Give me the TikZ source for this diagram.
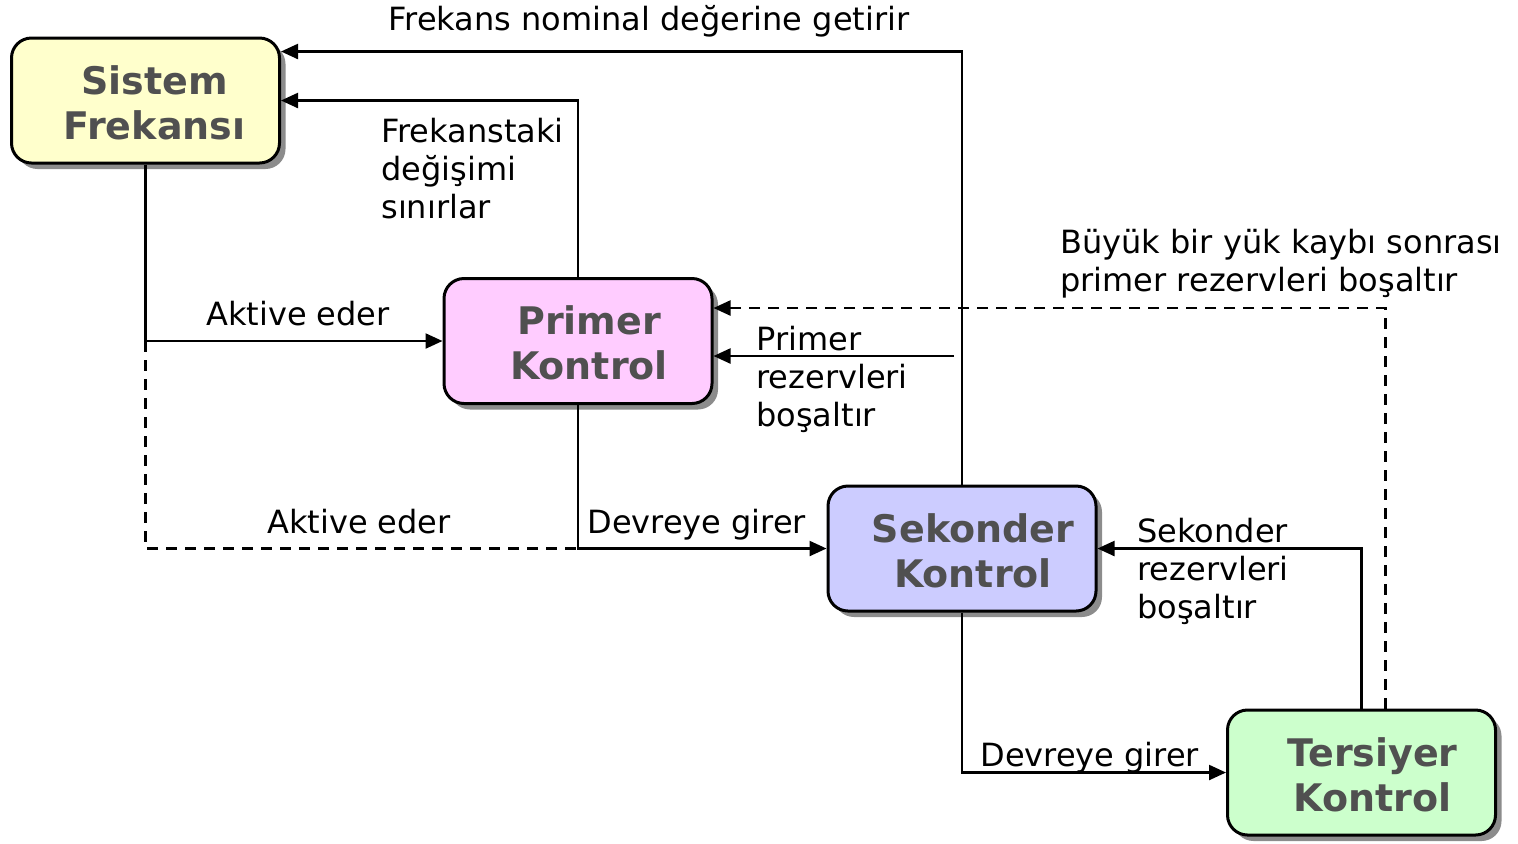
\documentclass[tikz,border=0pt]{standalone}
\usepackage{fontspec}
\setmainfont{DejaVu Sans}
\usetikzlibrary{shadows,arrows.meta,calc}
\definecolor{boxtext}{HTML}{505050}
\definecolor{shadowgray}{HTML}{8C8C8C}
\definecolor{fillsis}{HTML}{FFFFCC}
\definecolor{fillpri}{HTML}{FFCCFF}
\definecolor{fillsek}{HTML}{CCCCFF}
\definecolor{fillter}{HTML}{CCFFCC}
\begin{document}
\begin{tikzpicture}[x=0.5pt,y=-0.5pt,
  box/.style={draw=black, line width=1.5pt, rounded corners=10pt,
    minimum width=134pt, minimum height=62.5pt, inner sep=0pt,
    drop shadow={shadow xshift=3pt, shadow yshift=-3pt, fill=shadowgray, opacity=1}},
  boxlabel/.style={font=\fontsize{19}{22.5}\selectfont\bfseries, text=boxtext, align=center, inner sep=0pt},
  lbl/.style={font=\fontsize{16}{19}\selectfont, inner sep=0pt, align=left},
  conn/.style={line width=1.15pt, -{Triangle[length=8.5pt,width=7.5pt]}},
  dashconn/.style={conn, dash pattern=on 5.5pt off 4pt},
  dashline/.style={line width=1.15pt, dash pattern=on 5.5pt off 4pt}
]
\useasboundingbox (0,0) rectangle (1518,843);

% boxes
\node[box, fill=fillsis] (sis) at (145.5,100.5) {};
\node[box, fill=fillpri] (pri) at (578,341) {};
\node[box, fill=fillsek] (sek) at (962,548.5) {};
\node[box, fill=fillter] (ter) at (1361.5,772.5) {};

\node[boxlabel] (sist) at ($(sis.center)+(9,2)$) {Sistem\\Frekansı};
\node[boxlabel] (prit) at ($(pri.center)+(11,2)$) {Primer\\Kontrol};
\node[boxlabel] (sekt) at ($(sek.center)+(11,2)$) {Sekonder\\Kontrol};
\node[boxlabel] (tert) at ($(ter.center)+(11,2)$) {Tersiyer\\Kontrol};

% helper coordinates
\coordinate (sisE1) at ($(sis.north east)+(0,15)$);
\coordinate (priE1) at ($(pri.north east)+(0,31)$);
\coordinate (prsrc) at (954,356);
\coordinate (tdash) at ($(ter.north)+(24,0)$);
\coordinate (split) at (sis.south |- pri.west);

% connectors
\draw[conn] (sek.north) |- (sisE1);
\draw[conn] (pri.north) |- (sis.east);
\draw[conn] (sis.south) |- (pri.west);
\draw[dashline] (split) |- (pri.south |- sek.west);
\draw[conn] (pri.south) |- (sek.west);
\draw[conn] (prsrc) -- (pri.east |- prsrc);
\draw[dashconn] (tdash) |- (priE1);
\draw[conn] (ter.north) |- (sek.east);
\draw[conn] (sek.south) |- (ter.west);

% labels
\node[lbl, anchor=base] (l1) at (649,30) {Frekans nominal değerine getirir};
\node[lbl, anchor=north west] (l2) at (381,118) {Frekanstaki\\değişimi\\sınırlar};
\node[lbl, anchor=base] (l3) at (298,325) {Aktive eder};
\node[lbl, anchor=base] (l4) at (359,533) {Aktive eder};
\node[lbl, anchor=base west] (l5) at (587,533) {Devreye girer};
\node[lbl, anchor=north west] (l6) at (756,326) {Primer\\rezervleri\\boşaltır};
\node[lbl, anchor=north west] (l7) at (1060,229) {Büyük bir yük kaybı sonrası\\primer rezervleri boşaltır};
\node[lbl, anchor=north west] (l8) at (1137,518) {Sekonder\\rezervleri\\boşaltır};
\node[lbl, anchor=base west] (l9) at (980,766) {Devreye girer};
\end{tikzpicture}
\end{document}
